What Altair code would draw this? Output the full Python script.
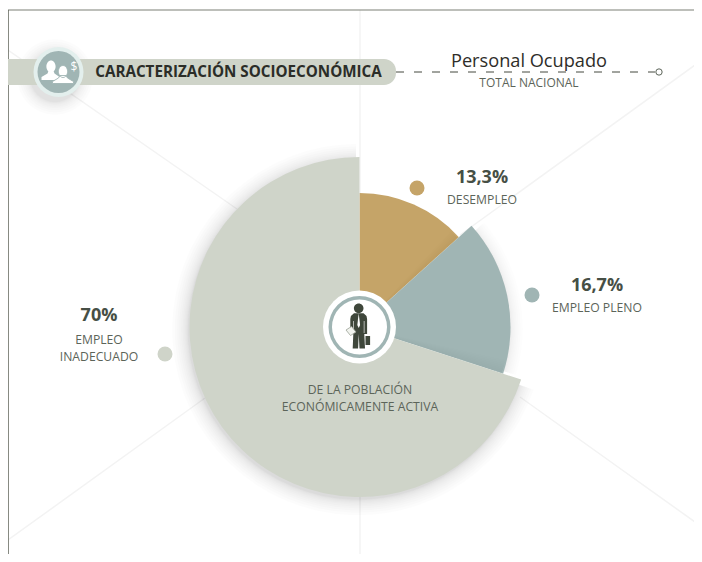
import math
import altair as alt

# ---- data ----
segments = ["Desempleo", "Empleo pleno", "Empleo inadecuado"]
shares = [13.3, 16.7, 70.0]
pct_labels = ["13,3%", "16,7%", "70%"]
seg_colors = ["#c5a468", "#a0b5b4", "#cfd4c9"]
seg_radii = [134, 151, 170]
title_text = "CARACTERIZACIÓN SOCIOECONÓMICA"
subtitle_main = "Personal Ocupado"
subtitle_sub = "TOTAL NACIONAL"
center_lines = ["DE LA POBLACIÓN", "ECONÓMICAMENTE ACTIVA"]
seg_notes = ["DESEMPLEO", "EMPLEO PLENO", "EMPLEO", "INADECUADO"]

FONT = "Open Sans"
DARK = "#464f45"
SOFT = "#5c6459"
OX, OY = 8, 8
CX, CY = 359.5 - OX, 327 - OY
one = alt.Data(values=[{"t": 1}])
layers = []


def px(v, o):
    return alt.value(v - o)


def line(x1, y1, x2, y2, color="#f3f3f3", width=1.5, dash=None):
    kw = {"color": color, "strokeWidth": width}
    if dash:
        kw["strokeDash"] = dash
    layers.append(alt.Chart(one).mark_rule(**kw).encode(
        x=px(x1, OX), y=px(y1, OY), x2=px(x2, OX), y2=px(y2, OY)))


def disc(cx, cy, r, color, r2=0, opacity=1.0, t0=0.0, t1=2 * math.pi):
    kw = dict(color=color, opacity=opacity, theta=t0, theta2=t1, radius=r)
    if r2:
        kw["radius2"] = r2
    layers.append(alt.Chart(one).mark_arc(**kw).encode(x=px(cx, OX), y=px(cy, OY)))


def label(s, x, y, size, color=SOFT, weight="normal", font=FONT, dx=0):
    layers.append(alt.Chart(alt.Data(values=[{"t": s}])).mark_text(
        font=font, fontSize=size, color=color, fontWeight=weight,
        align="center", baseline="middle").encode(
        x=px(x, OX), y=px(y, OY), text="t:N"))


def icon(path, cx, cy, color, stroke=None, sw=0.0):
    kw = dict(shape=path, size=4, filled=True, fill=color, opacity=1)
    if stroke:
        kw.update(stroke=stroke, strokeWidth=sw)
    else:
        kw.update(strokeWidth=0)
    layers.append(alt.Chart(one).mark_point(**kw).encode(x=px(cx, OX), y=px(cy, OY)))


def circ(x, y, r, ry=None):
    ry = ry or r
    return f"M{x-r},{y}A{r},{ry} 0 1,1 {x+r},{y}A{r},{ry} 0 1,1 {x-r},{y}Z"


# frame and faint background rays
line(8, 540, 205, 398)
line(8, 50, 237, 209)
line(520, 397, 702, 527)
line(702, 60, 460, 235)
line(360, 10, 360, 562)
line(8, 10, 702, 10, color="#7d8077", width=1.2)
line(8, 10, 8, 562, color="#5f6358", width=1.5)

# pie: cumulative angles
TAU = 2 * math.pi
a1 = shares[0] / 100 * TAU
a2 = (shares[0] + shares[1]) / 100 * TAU


def wedge(idx):
    row = [{"seg": segments[i], "share": shares[i], "k": i} for i in range(3)]
    return alt.Chart(alt.Data(values=row)).transform_stack(
        stack="share", groupby=[], sort=[alt.SortField("k")], as_=["s0", "s1"]
    ).transform_filter(f"datum.k == {idx}").mark_arc().encode(
        x=alt.value(CX), y=alt.value(CY),
        theta=alt.Theta("s0:Q", scale=alt.Scale(domain=[0, 100], range=[0, TAU])),
        theta2="s1:Q",
        radius=alt.value(seg_radii[idx]),
        color=alt.Color("seg:N", legend=None,
                        scale=alt.Scale(domain=segments, range=seg_colors)),
    )


layers.append(wedge(0))
# blue shadow: on the page, and a soft fall on the tan wedge
for k in range(1, 11):
    disc(CX + OX + 0.5, CY + OY + 1, seg_radii[1] + 0.12 * k * k, "#000000", opacity=0.007,
         t0=a1 + 0.03, t1=a2 - 0.02)
for k in range(1, 9):
    disc(CX + OX, CY + OY, seg_radii[0] - 1, "#000000", opacity=0.003,
         t0=a1 - 0.01 * k, t1=a1)
layers.append(wedge(1))
# beige shadow: on the page, and a soft fall on the blue wedge
for k in range(1, 13):
    disc(CX + OX - 1.5, CY + OY + 2.5, seg_radii[2] + 0.11 * k * k, "#000000", opacity=0.012,
         t0=a2 + 0.015, t1=TAU - 0.01)
for k in range(1, 9):
    disc(CX + OX, CY + OY, seg_radii[1] - 1, "#000000", opacity=0.005,
         t0=a2 - 0.012 * k, t1=a2)
layers.append(wedge(2))

# hub
disc(359.5, 327, 36.5, "#ffffff")
disc(359.5, 327, 31, "#a0b5b4", r2=27.5)
man = ("M-5.5,-13.7L4,-13.7L7,-11L7.6,-8L7.6,7L4.8,7L5.5,21.5L0,21.5L-0.8,7L-1.4,21.5"
       "L-6.8,21.5L-6.2,7L-9.2,7L-9.2,-8L-8.6,-11Z" + circ(-0.8, -18.7, 4.8)
       + "M6,9L10.6,9L10.6,18L6,18Z")
icon(man, 359.5, 327, "#3f473b")
icon("M-0.8,-13.5L-2.2,-2L-0.8,1L0.6,-2Z", 359.5, 327, "#ffffff")
icon("M-6.3,-6L-5.7,-6L-5.7,6L-6.3,6Z", 359.5, 327, "#ffffff")
icon("M4.3,-6L4.9,-6L4.9,6L4.3,6Z", 359.5, 327, "#ffffff")
icon("M-13.5,3L-8,-0.5L-3.5,5L-9,8.5Z", 359.5, 327, "#f2f4ef", stroke="#9aa196", sw=0.8)
label(center_lines[0], 360, 390, 12.2)
label(center_lines[1], 360, 407, 12.2)

# header band
for k in range(1, 11):
    disc(55, 77, 25 + 0.13 * k * k, "#000000", opacity=0.010)
layers.append(alt.Chart(one).mark_rect(color="#cfd4c9", cornerRadiusTopRight=12,
                                       cornerRadiusBottomRight=12).encode(
    x=px(8, OX), x2=px(396, OX), y=px(59, OY), y2=px(85, OY)))
disc(58.5, 72, 25, "#e3efed")
disc(58.5, 72, 21, "#a0b5b4")
back = circ(-7.5, -5.5, 4.6, 6) + "M-17,8L-17,5L-11,1.5L-10,-1L-5,-1L-4,1.5L1,5L1,8Z"
front = circ(4.5, -0.5, 4.6, 6) + "M-6,11.5L-6,9.5L0,6L1.5,3.5L7.5,3.5L9,6L15,9.5L15,11.5Z"
icon(back, 58.5, 72, "#ffffff")
icon(front, 58.5, 72, "#ffffff", stroke="#a0b5b4", sw=0.9)
label("$", 74, 67, 12, color="#ffffff")
label(title_text, 238.5, 72, 15.2, color="#2b2d28", weight="bold")

# dashed leader
line(396, 72, 655, 72, color="#45483f", width=1, dash=[8, 10])
layers.append(alt.Chart(one).mark_point(size=40, shape="circle", color="#5c6459", strokeWidth=1,
                                        filled=False, opacity=1).encode(x=px(659, OX), y=px(72, OY)))
label(subtitle_main, 529, 62, 18.2, color="#2e2d29")
label(subtitle_sub, 529, 83, 12, color=SOFT)

# value labels
disc(417, 188, 7.5, seg_colors[0])
disc(532, 295, 7.5, seg_colors[1])
disc(165, 354, 7.5, seg_colors[2])
label(pct_labels[0], 482, 178, 18, color=DARK, weight="bold")
label(seg_notes[0], 482, 200, 12.2)
label(pct_labels[1], 597, 286, 18, color=DARK, weight="bold")
label(seg_notes[1], 597, 308, 12.2)
label(pct_labels[2], 99, 316, 18, color=DARK, weight="bold")
label(seg_notes[2], 99, 340, 12.2)
label(seg_notes[3], 99, 357, 12.2)

chart = alt.layer(*layers).properties(
    width=686, height=546, padding=0, autosize=alt.AutoSizeParams(type="none"),
    background="#ffffff",
).configure_view(strokeOpacity=0, strokeWidth=0)
chart.save("out.html", embed_options={"renderer": "svg", "actions": False})
